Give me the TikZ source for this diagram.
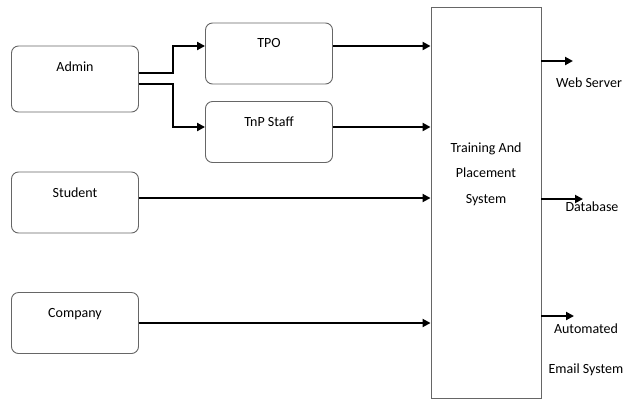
\documentclass[tikz,border=0pt]{standalone}
\usepackage{fontspec}
\setmainfont{Carlito}
\usetikzlibrary{arrows.meta}

\begin{document}
\begin{tikzpicture}[x=1pt,y=-1pt]
		\tikzset{box/.style = {draw=black!60, line width=0.9pt, rounded corners=7pt, minimum width=127pt, minimum height=61pt, inner sep=0pt}}
		\tikzset{boxtext/.style = {anchor=north, yshift=-16pt, inner sep=0pt, font=\fontsize{14}{16}\selectfont}}
		\tikzset{flow/.style = {-{Triangle[length=8pt,width=8pt]}, line width=2.8pt}}
		\tikzset{thinflow/.style = {-{Triangle[length=8pt,width=8pt]}, line width=1.9pt}}
		\tikzset{outtext/.style = {inner sep=0pt, align=center, font=\fontsize{14}{40}\selectfont}}

		\useasboundingbox (0,0) rectangle (623,400);

		\node[box, minimum height=66pt, label={[boxtext]north:Admin}] (admin) at (75,79) {};
		\node[box, label={[boxtext]north:TPO}] (tpo) at (269,53.5) {};
		\node[box, label={[boxtext]north:TnP Staff}] (tnp) at (269,132) {};
		\node[box, label={[boxtext]north:Student}] (student) at (75,202.5) {};
		\node[box, label={[boxtext]north:Company}] (company) at (75,323) {};

		\node[box, rounded corners=0pt, minimum width=110pt, minimum height=391pt,
			label={[outtext, yshift=28.5pt, font=\fontsize{14}{25.5}\selectfont]center:Training And\\Placement\\System}] (sys) at (486,202.5) {};

		\coordinate (web) at (573,61);
		\coordinate (db) at (583,199);
		\coordinate (mail) at (574,316);
		\node[outtext] (webl) at (589,83) {Web Server};
		\node[outtext] (dbl) at (592,207) {Database};
		\node[outtext] (maill) at (586,350) {Automated\\Email System};

		\draw[flow] ([yshift=6pt]admin.east) -- ++(34,0) |- ([yshift=7.5pt]tpo.west);
		\draw[flow] ([yshift=-5pt]admin.east) -- ++(34,0) |- ([yshift=5pt]tnp.west);

		\draw[flow] ([yshift=7.5pt]tpo.east) -- ([yshift=7.5pt]tpo.east -| sys.west);
		\draw[flow] ([yshift=5pt]tnp.east) -- ([yshift=5pt]tnp.east -| sys.west);
		\draw[thinflow] ([yshift=4.5pt]student.east) -- ([yshift=4.5pt]student.east -| sys.west);
		\draw[thinflow] (company.east) -- (company.east -| sys.west);

		\draw[flow] (sys.east |- web) -- (web);
		\draw[thinflow] (sys.east |- db) -- (db);
		\draw[flow] (sys.east |- mail) -- (mail);

	\end{tikzpicture}
\end{document}
